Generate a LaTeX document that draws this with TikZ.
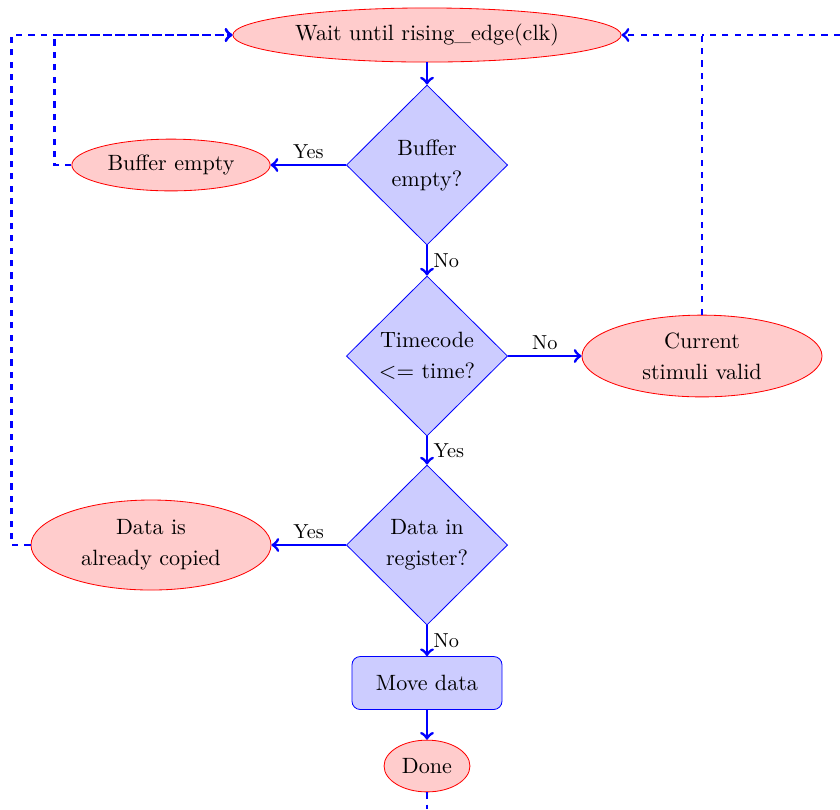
\documentclass[tikz,border=0pt]{standalone}
\usepackage{tikz}
\usetikzlibrary{shapes.geometric}

\tikzset{
  decision/.style = {diamond, draw=blue, fill=blue!20, aspect=1,
    minimum width=2.74cm, minimum height=2.72cm, inner sep=0pt, align=center},
  state/.style = {ellipse, draw=red, fill=red!20, inner sep=0pt, align=center},
  block/.style = {rectangle, draw=blue, fill=blue!20, rounded corners,
    minimum width=2.55cm, minimum height=0.9cm},
  line/.style = {draw=blue, line width=1.4pt, ->},
  back/.style = {draw=blue, line width=1.4pt, dashed, ->},
  lbl/.style = {font=\fontsize{9.8}{12}\selectfont, inner sep=2.5pt},
}

\begin{document}
\begin{tikzpicture}[x=0.017cm, y=-0.017cm, font=\fontsize{10.7}{15}\selectfont]

      \useasboundingbox (0,0) rectangle (840,809);

      % nodes
      \node[state, minimum width=6.6cm, minimum height=0.92cm] (wait) at (427,35) {Wait until rising\_edge(clk)};
      \node[decision] (bufq) at (427,165) {Buffer\\ empty?};
      \node[state, minimum width=3.37cm, minimum height=0.88cm] (bufe) at (171,165) {Buffer empty};
      \node[decision] (timeq) at (427,356) {Timecode\\ $<=$ time?};
      \node[state, minimum width=4.08cm, minimum height=1.39cm] (stim) at (702,356) {Current\\ stimuli valid};
      \node[decision] (regq) at (427,545) {Data in\\ register?};
      \node[state, minimum width=4.08cm, minimum height=1.53cm] (copied) at (151,545) {Data is\\ already copied};
      \node[block] (move) at (427,683) {Move data};
      \node[state, minimum width=1.46cm, minimum height=0.88cm] (done) at (427,766) {Done};

      \coordinate (bottom) at (427,809);
      \coordinate (right) at (840,35);

      % edges
      \draw[line] (wait) -- (bufq);
      \draw[line] (bufq) -- node[lbl, above] {Yes} (bufe);
      \draw[line] (bufq) -- node[lbl, right] {No} (timeq);
      \draw[line] (timeq) -- node[lbl, above] {No} (stim);
      \draw[line] (timeq) -- node[lbl, right] {Yes} (regq);
      \draw[line] (regq) -- node[lbl, above] {Yes} (copied);
      \draw[line] (regq) -- node[lbl, right] {No} (move);
      \draw[line] (move) -- (done);

      % loops back
      \draw[back] (bufe.west) -- ++(-17,0) |- (wait.west);
      \draw[back] (copied.west) -- ++(-19,0) |- (wait.west);
      \draw[back] (stim.north) |- (wait.east);
      \draw[blue, line width=1.4pt, dashed] (right) -- (stim.north |- wait.east);
      \draw[blue, line width=1.4pt, dashed] (done) -- (bottom);
    \end{tikzpicture}
\end{document}
